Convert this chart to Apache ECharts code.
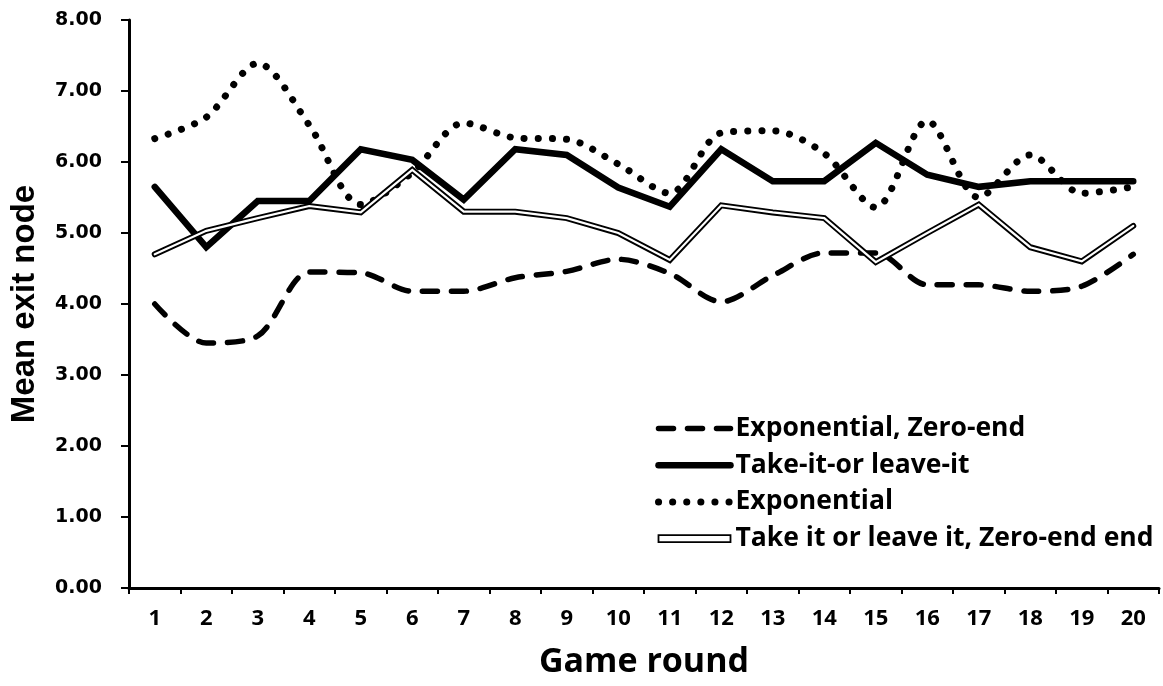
<!DOCTYPE html>
<html>
<head>
<meta charset="utf-8">
<script src="https://cdn.jsdelivr.net/npm/echarts@6/dist/echarts.min.js"></script>
<style>html,body{margin:0;padding:0;background:#fff;}#c{width:1163px;height:686px;}</style>
</head>
<body>
<div id="c"></div>
<script>
const rounds = ['1','2','3','4','5','6','7','8','9','10','11','12','13','14','15','16','17','18','19','20'];
const yTicks = [0, 1, 2, 3, 4, 5, 6, 7, 8];
const seriesNames = ['Exponential, Zero-end', 'Take-it-or leave-it', 'Exponential', 'Take it or leave it, Zero-end end'];
const expZeroEnd = [4.00, 3.45, 3.55, 4.45, 4.44, 4.18, 4.18, 4.37, 4.46, 4.63, 4.43, 4.03, 4.40, 4.72, 4.72, 4.27, 4.27, 4.18, 4.25, 4.70];
const takeIt = [5.65, 4.80, 5.45, 5.45, 6.18, 6.03, 5.47, 6.18, 6.10, 5.64, 5.37, 6.18, 5.73, 5.73, 6.27, 5.82, 5.65, 5.73, 5.73, 5.73];
const exponential = [6.33, 6.63, 7.39, 6.52, 5.40, 5.85, 6.55, 6.34, 6.32, 5.97, 5.56, 6.41, 6.44, 6.12, 5.36, 6.58, 5.50, 6.10, 5.56, 5.65];
const takeItZeroEnd = [4.70, 5.03, 5.21, 5.38, 5.29, 5.89, 5.30, 5.30, 5.21, 5.00, 4.62, 5.39, 5.29, 5.21, 4.59, 5.00, 5.40, 4.80, 4.60, 5.10];

const chart = echarts.init(document.getElementById('c'), null, {renderer: 'canvas'});
chart.setOption({
  animation: false,
  backgroundColor: '#fff',
  grid: {left: 128, top: 20, right: 4, bottom: 98, containLabel: false},
  legend: {
    orient: 'vertical',
    left: 650,
    top: 410,
    itemWidth: 72,
    itemHeight: 8,
    itemGap: 9.7,
    textStyle: {fontFamily: 'Open Sans', fontWeight: 'bold', fontSize: 26.5, color: '#000', lineHeight: 27},
    lineStyle: {width: 'inherit', type: 'inherit', cap: 'inherit'},
    itemStyle: {opacity: 0},
    data: [
      {name: seriesNames[0]},
      {name: seriesNames[1]},
      {name: seriesNames[2]},
      {name: seriesNames[3], icon: 'path://M0 0H72V7H0Z', itemStyle: {opacity: 1, color: '#fff', borderColor: '#000', borderWidth: 1.8}}
    ]
  },
  xAxis: {
    type: 'category',
    data: rounds,
    boundaryGap: true,
    name: 'Game round',
    nameLocation: 'middle',
    nameGap: 57,
    nameTextStyle: {fontFamily: 'Open Sans', fontWeight: 'bold', fontSize: 34, color: '#000'},
    axisLine: {lineStyle: {color: '#000', width: 3}},
    axisTick: {show: true, alignWithLabel: false, length: 6, lineStyle: {color: '#000', width: 2}},
    axisLabel: {margin: 20, fontFamily: 'Open Sans', fontWeight: 'bold', fontSize: 22, color: '#000'},
    splitLine: {show: false}
  },
  yAxis: {
    type: 'value',
    min: yTicks[0],
    max: yTicks[yTicks.length - 1],
    interval: 1,
    name: 'Mean exit node',
    nameLocation: 'middle',
    nameGap: 88,
    nameTextStyle: {fontFamily: 'Liberation Sans', fontWeight: 'bold', fontSize: 33, color: '#000'},
    axisLine: {show: true, lineStyle: {color: '#000', width: 3}},
    axisTick: {show: true, length: 8, lineStyle: {color: '#000', width: 2}},
    axisLabel: {margin: 27, fontFamily: 'DejaVu Sans', fontWeight: 'bold', fontSize: 19, color: '#000', formatter: v => v.toFixed(2)},
    splitLine: {show: false}
  },
  series: [
    {name: seriesNames[0], type: 'line', data: expZeroEnd, symbol: 'none', smooth: 0.3, color: '#000',
     lineStyle: {color: '#000', width: 5.5, type: [15, 14], cap: 'round', join: 'round'}},
    {name: seriesNames[1], type: 'line', data: takeIt, symbol: 'none', color: '#000',
     lineStyle: {color: '#000', width: 6.5, type: 'solid', cap: 'round', join: 'miter'}},
    {name: seriesNames[2], type: 'line', data: exponential, symbol: 'none', smooth: 0.3, color: '#000',
     lineStyle: {color: '#000', width: 7, type: [0.1, 14], cap: 'round', join: 'round'}},
    {name: seriesNames[3], type: 'line', data: takeItZeroEnd, symbol: 'none', color: '#000',
     lineStyle: {color: '#000', width: 6, type: 'solid', cap: 'round', join: 'miter'}},
    {name: 'inner', type: 'line', data: takeItZeroEnd, symbol: 'none', color: '#fff', silent: true,
     lineStyle: {color: '#fff', width: 2.2, type: 'solid', cap: 'round', join: 'miter'}}
  ]
});
</script>
</body>
</html>
